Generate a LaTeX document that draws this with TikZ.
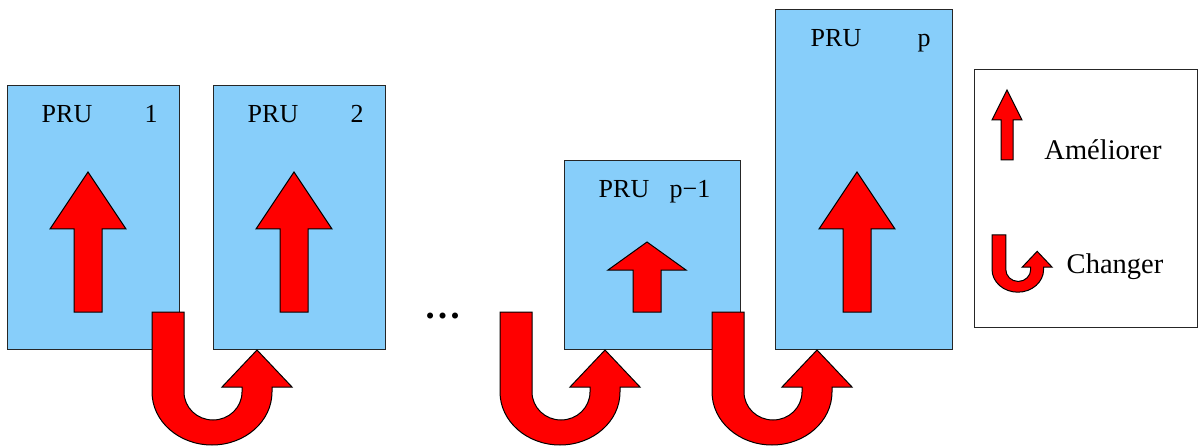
\documentclass[tikz,border=0pt]{standalone}
\usepackage{fontspec}
\setmainfont{Liberation Serif}
\definecolor{ciel}{RGB}{135,206,250}
\tikzset{
  pru/.style={draw=black!85, fill=ciel, line width=1.2pt, anchor=north west, inner sep=0pt},
  fleche/.style={draw=black, fill=red, line width=1pt, line join=miter},
  etiq/.style={anchor=base, inner sep=0pt, font=\fontsize{26}{30}\selectfont},
  legende/.style={anchor=base, inner sep=0pt, font=\fontsize{28.5}{33}\selectfont},
  uturn/.pic={
    \draw[fleche] (0,0) -- (32,0) -- (32,80)
      arc[start angle=180, end angle=0, x radius=29, y radius=28]
      -- (90,75) -- (70,75) -- (105,38) -- (140,75) -- (120,75) -- (120,80)
      arc[start angle=0, end angle=180, x radius=60, y radius=53] -- cycle;
  }
}
\begin{document}
\begin{tikzpicture}[x=1pt, y=-1pt]
      \useasboundingbox (0,0) rectangle (1198,446);
      % boites
      \node[pru, minimum width=172, minimum height=264] (b1) at (7,85) {};
      \node[pru, minimum width=172, minimum height=264] (b2) at (213,85) {};
      \node[pru, minimum width=176, minimum height=189] (bq) at (564,160) {};
      \node[pru, minimum width=177, minimum height=340] (bp) at (775,9) {};
      \node[pru, fill=white, minimum width=223, minimum height=258] (leg) at (974,69) {};
      % etiquettes
      \node[etiq] (t1) at (67,123) {PRU};
      \node[etiq] (n1) at (151,123) {1};
      \node[etiq] (t2) at (273,123) {PRU};
      \node[etiq] (n2) at (357,123) {2};
      \node[etiq] (tq) at (624,198) {PRU};
      \node[etiq] (nq) at (690,198) {p−1};
      \node[etiq] (tp) at (836,47) {PRU};
      \node[etiq] (np) at (924,47) {p};
      \node[anchor=base, inner sep=0pt, font=\fontsize{37}{40}\selectfont\bfseries] (dots) at (443,318) {\ldots};
      % ameliorer
      \foreach \x in {88,294,857}
        \draw[fleche] (\x-14,312) -- (\x-14,229) -- (\x-38,229) -- (\x,172)
          -- (\x+38,229) -- (\x+14,229) -- (\x+14,312) -- cycle;
      \draw[fleche] (633,312) -- (633,270) -- (608,270) -- (647,242)
        -- (686,270) -- (661,270) -- (661,312) -- cycle;
      % changer
      \pic at (152,312) {uturn};
      \pic at (500,312) {uturn};
      \pic at (712,312) {uturn};
      % legende
      \draw[fleche] (1001,160) -- (1001,120) -- (992,120) -- (1007,90)
        -- (1022,120) -- (1013,120) -- (1013,160) -- cycle;
      \pic[scale=0.43] at (992,235) {uturn};
      \node[legende] (am) at (1103,160) {Améliorer};
      \node[legende] (ch) at (1115,273) {Changer};
    \end{tikzpicture}
\end{document}
